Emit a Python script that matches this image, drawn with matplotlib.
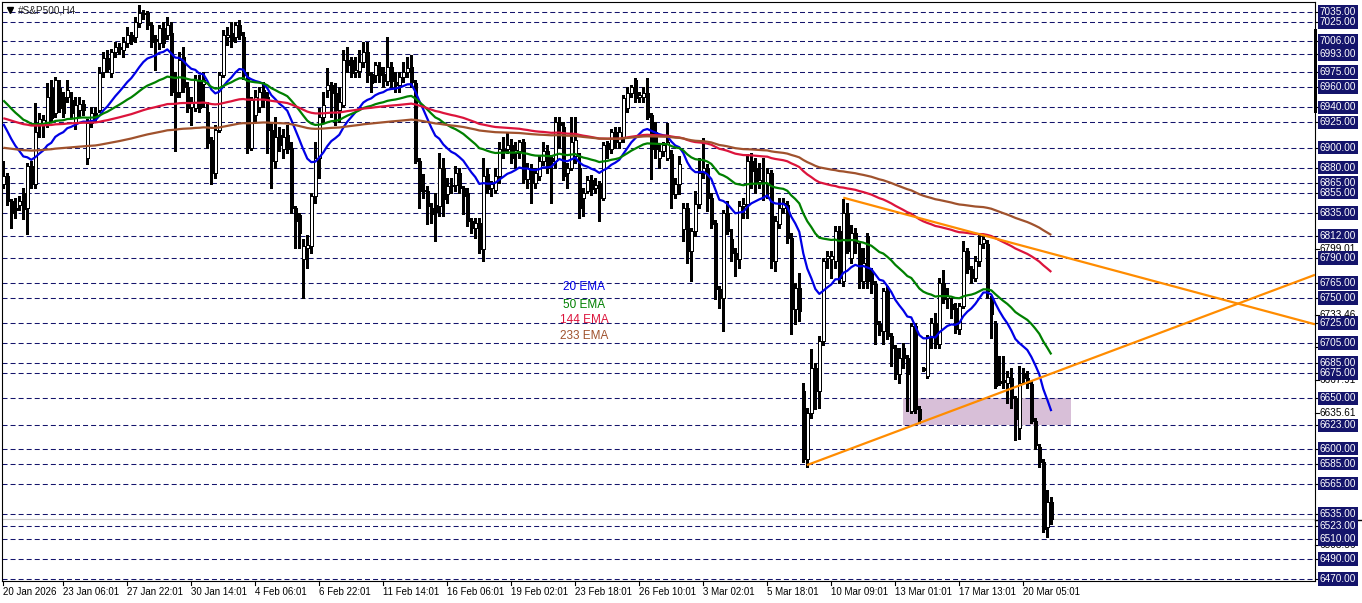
import matplotlib
matplotlib.use("Agg")
import matplotlib.pyplot as plt
from matplotlib.patches import Rectangle
from matplotlib.lines import Line2D
import matplotlib.transforms as mtrans

plt.rcParams['font.family'] = ['Liberation Sans', 'DejaVu Sans']
plt.rcParams['lines.scale_dashes'] = False

# ---------------- data (H4 candles) ----------------
opens = [6864,6872,6847,6840,6843,6855,6840,6882,6864,6922,6922,6922,6959,6934,6959,6950,6950,6947,6925,6937,
         6943,6890,6924,6934,6937,6975,6989,6974,6995,7000,6997,7004,7012,7010,7024,7034,7034,7022,7008,7004,
         7019,7012,7014,6955,6955,6990,6960,6940,6939,6965,6963,6935,6907,6875,6917,6972,7010,7014,7010,7022,
         7010,6970,6900,6932,6940,6957,6950,6917,6887,6912,6899,6912,6900,6840,6833,6789,6800,6802,6852,6890,
         6930,6957,6962,6954,6937,6942,6987,6987,6975,6976,6985,6995,6973,6972,6980,6973,6966,6980,6965,6962,
         6970,6975,6980,6964,6887,6858,6857,6840,6843,6842,6880,6854,6862,6863,6875,6860,6855,6827,6820,6825,
         6799,6874,6860,6858,6872,6899,6899,6902,6895,6897,6905,6869,6880,6865,6872,6887,6897,6890,6887,6925,
         6920,6875,6880,6892,6880,6850,6857,6868,6860,6865,6850,6904,6899,6915,6905,6910,6939,6954,6967,6950,
         6950,6954,6932,6915,6890,6897,6890,6894,6854,6864,6819,6840,6797,6817,6844,6875,6880,6850,6825,6759,
         6750,6835,6809,6795,6789,6842,6844,6887,6880,6866,6866,6865,6875,6787,6824,6840,6843,6810,6739,6760,
         6657,6590,6635,6680,6657,6707,6790,6789,6787,6817,6767,6835,6790,6815,6800,6767,6812,6775,6764,6724,
         6717,6757,6712,6700,6674,6700,6690,6637,6722,6639,6679,6672,6712,6725,6704,6765,6750,6744,6740,6719,
         6742,6797,6779,6770,6787,6805,6804,6749,6724,6667,6667,6665,6670,6650,6620,6675,6670,6664,6627,6602,
         6587,6522,6547]
highs = [6887,6875,6849,6850,6852,6860,6885,6887,6944,6934,6932,6964,6967,6970,6967,6955,6967,6955,6950,6950,
         6947,6928,6940,6940,6980,6995,6997,6998,7005,7004,7010,7020,7015,7030,7042,7037,7036,7025,7012,7022,
         7025,7030,7025,6975,6995,7000,6965,6950,6972,6972,6975,6945,6910,6922,6975,7017,7020,7025,7025,7027,
         7015,6975,6950,6957,6960,6965,6955,6925,6930,6920,6918,6922,6905,6842,6835,6809,6813,6855,6905,6939,
         6955,6979,6965,6964,6960,6997,7000,6990,6990,6997,7005,7005,6975,6985,6985,6980,7010,6985,6975,6975,
         6985,6990,6992,6967,6890,6874,6862,6845,6855,6895,6890,6870,6870,6882,6880,6862,6860,6830,6830,6830,
         6890,6880,6867,6880,6905,6910,6915,6908,6905,6907,6908,6885,6884,6880,6892,6905,6902,6893,6930,6930,
         6925,6885,6930,6930,6895,6860,6872,6873,6870,6867,6905,6906,6918,6920,6920,6952,6960,6962,6969,6955,
         6960,6969,6934,6925,6904,6905,6924,6898,6870,6892,6845,6845,6820,6857,6890,6909,6884,6855,6828,6762,
         6838,6847,6819,6800,6847,6850,6894,6895,6890,6885,6890,6880,6878,6832,6850,6850,6847,6815,6765,6775,
         6665,6640,6699,6685,6712,6790,6797,6797,6822,6822,6849,6845,6823,6820,6805,6800,6815,6780,6767,6727,
         6760,6762,6715,6703,6700,6705,6693,6725,6725,6642,6681,6713,6730,6735,6770,6778,6760,6750,6745,6745,
         6807,6800,6782,6792,6814,6812,6808,6752,6727,6692,6692,6677,6680,6652,6682,6680,6677,6667,6630,6605,
         6590,6559,6552]
lows = [6860,6843,6820,6830,6838,6829,6814,6860,6860,6910,6910,6920,6925,6930,6935,6930,6945,6930,6918,6930,
        6932,6884,6920,6925,6935,6970,6975,6970,6990,6993,6990,7000,7003,7005,7020,7028,7018,7000,6977,6998,
        7000,7008,6952,6897,6950,6955,6935,6922,6936,6935,6940,6900,6864,6870,6915,6970,7002,7000,7005,7008,
        6968,6895,6898,6925,6935,6940,6895,6860,6880,6897,6890,6895,6835,6800,6800,6750,6780,6795,6845,6870,
        6925,6950,6930,6922,6925,6940,6975,6970,6970,6970,6980,6965,6955,6965,6965,6960,6962,6960,6955,6955,
        6965,6970,6960,6885,6840,6850,6824,6825,6807,6832,6832,6845,6855,6857,6855,6834,6822,6815,6810,6795,
        6787,6855,6852,6855,6865,6890,6895,6885,6880,6890,6865,6860,6845,6860,6868,6883,6875,6845,6880,6900,
        6868,6860,6878,6885,6830,6832,6855,6853,6855,6827,6848,6890,6895,6900,6900,6905,6935,6950,6945,6945,
        6945,6928,6869,6890,6880,6892,6888,6840,6850,6854,6807,6785,6767,6812,6840,6870,6837,6820,6749,6740,
        6717,6814,6787,6772,6780,6830,6830,6860,6855,6860,6848,6850,6780,6777,6820,6835,6805,6714,6724,6727,
        6587,6582,6630,6639,6640,6703,6780,6770,6780,6765,6762,6795,6785,6795,6760,6760,6760,6755,6704,6713,
        6704,6709,6682,6669,6665,6680,6637,6635,6635,6625,6677,6670,6700,6700,6700,6745,6740,6730,6715,6714,
        6740,6775,6765,6767,6782,6800,6750,6710,6660,6663,6660,6645,6640,6609,6610,6665,6660,6625,6600,6582,
        6517,6512,6525]
closes = [6872,6847,6835,6838,6847,6839,6882,6864,6915,6928,6927,6950,6929,6967,6939,6934,6957,6934,6942,6943,
          6937,6924,6934,6932,6974,6989,6978,6995,7000,6998,7005,7012,7006,7025,7034,7033,7022,7005,7006,7019,
          7004,7022,6955,6950,6987,6960,6939,6945,6967,6939,6967,6904,6875,6917,6972,7012,7012,7006,7022,7012,
          6972,6900,6947,6950,6955,6947,6917,6887,6910,6902,6910,6899,6840,6827,6815,6802,6803,6852,6890,6930,
          6942,6962,6954,6937,6945,6987,6982,6974,6977,6985,6995,6972,6964,6982,6972,6966,6980,6966,6962,6970,
          6975,6979,6965,6887,6857,6857,6842,6834,6836,6880,6849,6862,6863,6875,6860,6852,6827,6820,6825,6799,
          6872,6859,6864,6872,6899,6897,6902,6890,6898,6905,6869,6880,6865,6875,6887,6897,6880,6887,6925,6922,
          6872,6880,6905,6907,6840,6855,6868,6859,6863,6850,6902,6899,6915,6905,6915,6949,6954,6960,6949,6952,
          6954,6930,6899,6899,6897,6902,6905,6854,6864,6884,6840,6797,6817,6844,6875,6880,6850,6824,6759,6750,
          6835,6817,6795,6789,6842,6844,6887,6877,6865,6868,6865,6875,6787,6827,6840,6845,6810,6739,6760,6737,
          6590,6635,6680,6657,6707,6787,6792,6792,6817,6770,6835,6797,6815,6805,6767,6785,6767,6764,6724,6717,
          6757,6712,6700,6674,6690,6690,6674,6722,6639,6629,6679,6710,6725,6704,6765,6749,6752,6739,6719,6742,
          6797,6779,6770,6787,6804,6809,6757,6734,6662,6665,6667,6671,6650,6629,6665,6670,6665,6627,6604,6587,
          6520,6547,6530]

# EMA starting values read at the left edge of the chart
ema_periods = [20, 50, 144, 233]
ema_seeds = [6929, 6950, 6930, 6900]
ema_names = ["20 EMA", "50 EMA", "144 EMA", "233 EMA"]
ema_colors = ["#0000E6", "#008000", "#DC143C", "#A0522D"]

# horizontal level lines (boxed labels on the price scale)
levels = [7035, 7025, 7006, 6993, 6975, 6960, 6940, 6925, 6900, 6880, 6865, 6855, 6835, 6812,
          6790, 6765, 6750, 6725, 6705, 6685, 6675, 6650, 6623, 6600, 6585, 6565, 6535, 6523,
          6510, 6490, 6470]
scale_marks = [6503.56, 6635.61, 6667.91, 6701.16, 6733.46, 6799.01]

# trend lines: (bar, price) anchors
trend_down = [(210.0, 6850.0), (264.2, 6792.0)]
trend_up = [(200.9, 6583.5), (264.2, 6678.0)]
zone = (224.9, 266.9, 6623, 6650)
bid_price = 6530

x_labels = ["20 Jan 2026", "23 Jan 06:01", "27 Jan 22:01", "30 Jan 14:01", "4 Feb 06:01",
            "6 Feb 22:01", "11 Feb 14:01", "16 Feb 06:01", "19 Feb 02:01", "23 Feb 18:01",
            "26 Feb 10:01", "3 Mar 02:01", "5 Mar 18:01", "10 Mar 09:01", "13 Mar 01:01",
            "17 Mar 13:01", "20 Mar 05:01"]
x_label_bars = [0, 15, 31, 47, 63, 79, 95, 111, 127, 143, 159, 175, 191, 207, 223, 239, 255]

# ---------------- figure ----------------
W, H = 1362, 603
fig = plt.figure(figsize=(W / 100, H / 100), dpi=100)
fig.patch.set_facecolor("white")
L, R, T, B = 2, 1315, 2, 581
ax = fig.add_axes([L / W, 1 - B / H, (R - L) / W, (B - T) / H])
ax.set_xlim(-0.325, 327.925)
ax.set_ylim(6468.0, 7045.0)
ax.set_xticks([])
ax.set_yticks([])
for s in ax.spines.values():
    s.set_color("black")
    s.set_linewidth(0.8)

navy = "#14146B"
for lv in levels:
    ax.axhline(lv, color=navy, lw=0.75, ls=(0, (3.6, 2.2)), zorder=1)

# zone rectangle
ax.add_patch(Rectangle((zone[0], zone[2]), zone[1] - zone[0], zone[3] - zone[2],
                       facecolor="#D8BFD8", edgecolor="none", zorder=0.5))

ax.axhline(bid_price, color="#C8C8C8", lw=0.8, zorder=1.2)

# candles
n = len(closes)
xs = list(range(n))
ax.vlines(xs, lows, highs, color="black", lw=0.75, zorder=3, antialiased=False)
for i in range(n):
    o, c = opens[i], closes[i]
    lo, hi = min(o, c), max(o, c)
    fc = "white" if c >= o else "black"
    if hi - lo < 0.8:
        ax.hlines(o, i - 0.4, i + 0.4, color="black", lw=0.8, zorder=4, antialiased=False)
    else:
        ax.add_patch(Rectangle((i - 0.36, lo), 0.72, hi - lo, facecolor=fc, edgecolor="black",
                               lw=0.7, zorder=4, antialiased=False))

# EMAs
for per, seed, col in zip(ema_periods, ema_seeds, ema_colors):
    a = 2.0 / (per + 1)
    e = seed
    vals = []
    for c in closes:
        e = e + a * (c - e)
        vals.append(e)
    ax.plot(xs, vals, color=col, lw=1.6, zorder=5, solid_capstyle="butt")

# trend lines extended to the right edge
xr = ax.get_xlim()[1]
for (x0, y0), (x1, y1) in (trend_down, trend_up):
    k = (y1 - y0) / (x1 - x0)
    ax.plot([x0, xr], [y0, y0 + k * (xr - x0)], color="#FF8C00", lw=1.6, zorder=6,
            solid_capstyle="butt", clip_on=True)

# EMA legend texts
leg_y = [6761, 6743, 6728, 6712]
for name, col, yv in zip(ema_names, ema_colors, leg_y):
    ax.text(145.2, yv, name, color=col, fontsize=8.5, ha="center", va="center", zorder=7)

# title
fig.add_artist(Line2D([10 / W], [1 - 10 / H], marker="v", color="black", markersize=4.5,
                      transform=fig.transFigure))
fig.text(18 / W, 1 - 10.5 / H, "#S&P500,H4", fontsize=7.2, color="#222222", ha="left", va="center")

# price scale
tr = mtrans.blended_transform_factory(fig.transFigure, ax.transData)
for v in scale_marks:
    fig.add_artist(Line2D([R / W, (R + 4) / W], [v, v], color="black", lw=0.8, transform=tr))
    fig.text(1319 / W, v, f"{v:.2f}", transform=tr, fontsize=7.2, color="black", ha="left", va="center")
for lv in levels:
    fig.add_artist(Line2D([R / W, (R + 3) / W], [lv, lv], color="black", lw=0.8, transform=tr))
    fig.text(1320 / W, lv, f"{lv:.2f}", transform=tr, fontsize=7.2, color="white", ha="left",
             va="center", bbox=dict(boxstyle="square,pad=0.18", facecolor=navy, edgecolor="none"))

# bid marker in the scale and the thick bar at the scale edge
fig.add_artist(Line2D([R / W, 1.0], [1 - 520 / H, 1 - 520 / H], color="black", lw=1.0,
                      transform=fig.transFigure))
fig.add_artist(Rectangle(((R - 1) / W, 1 - 113 / H), 3 / W, 84 / H, facecolor="black",
                         edgecolor="none", transform=fig.transFigure))

# time scale
trx = mtrans.blended_transform_factory(ax.transData, fig.transFigure)
for b, lab in zip(x_label_bars, x_labels):
    fig.add_artist(Line2D([b, b], [1 - B / H, 1 - (B + 4) / H], color="black", lw=0.8, transform=trx))
    fig.text(b, 1 - 592 / H, lab, transform=trx, fontsize=7, color="black",
             ha="left", va="center")

fig.savefig("out.png", dpi=100)
